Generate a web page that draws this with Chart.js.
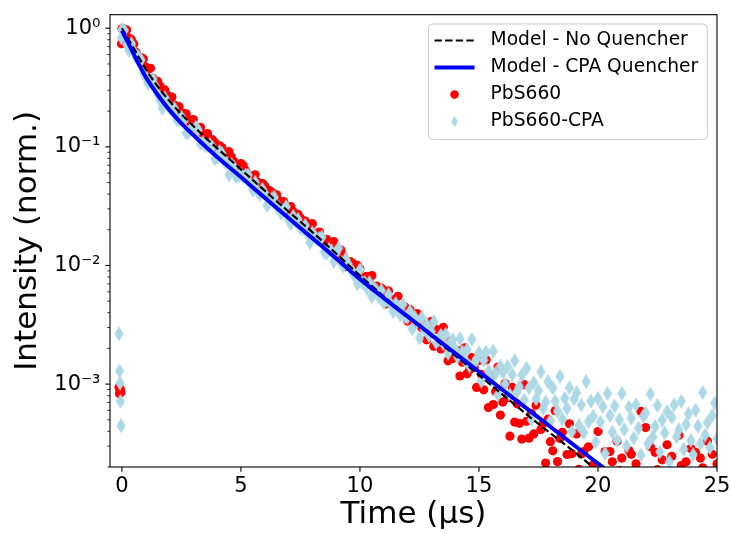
<!DOCTYPE html>
<html>
<head>
<meta charset="utf-8">
<script src="https://cdn.jsdelivr.net/npm/chart.js@4.4.0/dist/chart.umd.js"></script>
<style>
html,body{margin:0;padding:0;background:#fff;}
#wrap{width:731px;height:534px;}
</style>
</head>
<body>
<div id="wrap"><canvas id="c" width="731" height="534"></canvas></div>
<script>
// ---- data ----
const time = [-0.12,-0.1,-0.08,-0.06,-0.04,-0.02,
 0,0.1,0.2,0.3,0.4,0.5,0.6,0.7,0.8,0.9,
 1,1.1,1.2,1.3,1.4,1.5,1.6,1.7,1.8,1.9,
 2,2.1,2.2,2.3,2.4,2.5,2.6,2.7,2.8,2.9,
 3,3.1,3.2,3.3,3.4,3.5,3.6,3.7,3.8,3.9,
 4,4.1,4.2,4.3,4.4,4.5,4.6,4.7,4.8,4.9,
 5,5.1,5.2,5.3,5.4,5.5,5.6,5.7,5.8,5.9,
 6,6.1,6.2,6.3,6.4,6.5,6.6,6.7,6.8,6.9,
 7,7.1,7.2,7.3,7.4,7.5,7.6,7.7,7.8,7.9,
 8,8.1,8.2,8.3,8.4,8.5,8.6,8.7,8.8,8.9,
 9,9.1,9.2,9.3,9.4,9.5,9.6,9.7,9.8,9.9,
 10,10.1,10.2,10.3,10.4,10.5,10.6,10.7,10.8,10.9,
 11,11.1,11.2,11.3,11.4,11.5,11.6,11.7,11.8,11.9,
 12,12.1,12.2,12.3,12.4,12.5,12.6,12.7,12.8,12.9,
 13,13.1,13.2,13.3,13.4,13.5,13.6,13.7,13.8,13.9,
 14,14.1,14.2,14.3,14.4,14.5,14.6,14.7,14.8,14.9,
 15,15.1,15.2,15.3,15.4,15.5,15.6,15.7,15.8,15.9,
 16,16.1,16.2,16.3,16.4,16.5,16.6,16.7,16.8,16.9,
 17,17.1,17.2,17.3,17.4,17.5,17.6,17.7,17.8,17.9,
 18,18.1,18.2,18.3,18.4,18.5,18.6,18.7,18.8,18.9,
 19,19.1,19.2,19.3,19.4,19.5,19.6,19.7,19.8,19.9,
 20,20.1,20.2,20.3,20.4,20.5,20.6,20.7,20.8,20.9,
 21,21.1,21.2,21.3,21.4,21.5,21.6,21.7,21.8,21.9,
 22,22.1,22.2,22.3,22.4,22.5,22.6,22.7,22.8,22.9,
 23,23.1,23.2,23.3,23.4,23.5,23.6,23.7,23.8,23.9,
 24,24.1,24.2,24.3,24.4,24.5,24.6,24.7,24.8,24.9,
 25];

const pbs660 = [9.4e-4,8.3e-4,8.8e-4,9.0e-4,8.5e-4,0.74,
 0.99,0.985,0.966,0.826,0.800,0.736,0.625,0.552,0.566,0.551,
 0.470,0.452,0.459,0.379,0.352,0.356,0.325,0.290,0.302,0.274,
 0.240,0.263,0.225,0.217,0.218,0.188,0.192,0.190,0.164,0.168,
 0.170,0.146,0.144,0.146,0.129,0.126,0.129,0.108,0.115,0.109,
 0.0938,0.102,0.0986,0.0867,0.0861,0.0910,0.0820,0.0752,0.0695,0.0713,
 0.0723,0.0693,0.0630,0.0566,0.0565,0.0566,0.0581,0.0505,0.0470,0.0491,
 0.0468,0.0398,0.0428,0.0413,0.0356,0.0394,0.0352,0.0334,0.0346,0.0314,
 0.0292,0.0313,0.0284,0.0255,0.0270,0.0251,0.0224,0.0237,0.0215,0.0203,
 0.0225,0.0174,0.0187,0.0191,0.0158,0.0165,0.0166,0.0142,0.0138,0.0159,
 0.0135,0.0124,0.0135,0.0120,0.00977,0.00997,0.01076,0.0104,0.00929,0.0100,
 9.33e-3,7.54e-3,7.98e-3,8.10e-3,7.16e-3,8.23e-3,6.30e-3,6.71e-3,5.93e-3,6.45e-3,
 6.13e-3,4.74e-3,6.10e-3,5.07e-3,5.19e-3,4.32e-3,5.49e-3,4.16e-3,4.26e-3,4.45e-3,
 3.40e-3,4.24e-3,3.53e-3,3.22e-3,3.93e-3,3.30e-3,2.99e-3,3.18e-3,2.36e-3,2.80e-3,
 3.38e-3,2.08e-3,2.89e-3,2.26e-3,1.98e-3,3.01e-3,2.28e-3,1.57e-3,2.30e-3,1.64e-3,
 1.86e-3,1.92e-3,1.17e-3,1.53e-3,2.02e-3,1.22e-3,1.32e-3,1.67e-3,1.38e-3,9.38e-4,
 1.58e-3,1.21e-3,8.95e-4,1.60e-3,6.34e-4,1.18e-3,6.73e-4,8.65e-4,1.39e-3,5.48e-4,
 7.05e-4,1.01e-3,7.69e-4,3.64e-4,9.38e-4,4.78e-4,6.82e-4,4.67e-4,3.44e-4,9.89e-4,
 4.85e-4,3.50e-4,5.68e-4,3.80e-4,6.64e-4,1.84e-4,4.15e-4,4.66e-4,2.16e-4,5.06e-4,
 3.27e-4,2.74e-4,5.97e-4,2.22e-4,3.48e-4,3.92e-4,1.75e-4,2.55e-4,4.63e-4,2.59e-4,
 1.74e-4,3.80e-4,1.91e-4,2.58e-4,2.70e-4,1.17e-4,2.96e-4,1.54e-4,2.09e-4,1.69e-4,
 3.98e-4,1.20e-4,1.64e-4,2.70e-4,1.37e-4,2.70e-4,2.21e-4,1.15e-4,3.30e-4,1.87e-4,
 2.38e-4,1.37e-4,1.58e-4,2.75e-4,2.56e-4,1.14e-4,2.13e-4,1.77e-4,5.90e-4,1.42e-4,
 4.30e-4,1.27e-4,2.97e-4,1.53e-4,2.66e-4,1.90e-4,9.9e-5,2.30e-4,1.71e-4,3.08e-4,
 1.32e-4,2.46e-4,1.84e-4,1.59e-4,3.70e-4,2.06e-4,1.18e-4,2.21e-4,1.47e-4,2.86e-4,
 1.77e-4,2.66e-4,1.06e-4,2.38e-4,1.97e-4,1.37e-4,3.30e-4,1.65e-4,2.56e-4,1.23e-4,
 2.13e-4];

const pbs660Cpa = [2.65e-3,1.29e-3,1.02e-3,7.15e-4,4.46e-4,0.83,
 0.975,0.959,0.731,0.646,0.739,0.640,0.567,0.573,0.539,0.420,
 0.388,0.342,0.361,0.375,0.326,0.279,0.246,0.212,0.259,0.237,
 0.213,0.204,0.211,0.170,0.168,0.178,0.165,0.131,0.133,0.141,
 0.136,0.146,0.139,0.106,0.108,0.102,0.102,0.104,0.0993,0.0793,
 0.0812,0.0912,0.0881,0.0755,0.0730,0.0581,0.0713,0.0676,0.0562,0.0570,
 0.0589,0.0556,0.0578,0.0578,0.0481,0.0432,0.0502,0.0417,0.0395,0.0438,
 0.0405,0.0321,0.0344,0.0364,0.0376,0.0313,0.0307,0.0274,0.0293,0.0313,
 0.0241,0.0225,0.0259,0.0237,0.0244,0.0207,0.0203,0.0218,0.0183,0.0156,
 0.0188,0.0176,0.0165,0.0170,0.0173,0.0130,0.0126,0.0136,0.0133,0.0108,
 0.0128,0.0140,0.0106,0.00989,0.0113,0.0103,0.00931,0.00877,0.00800,0.00700,
 9.23e-3,7.13e-3,7.19e-3,6.38e-3,7.19e-3,5.46e-3,6.44e-3,6.10e-3,5.41e-3,6.15e-3,
 4.84e-3,5.12e-3,5.68e-3,4.68e-3,4.08e-3,4.78e-3,4.45e-3,3.81e-3,4.67e-3,3.68e-3,
 3.67e-3,4.09e-3,2.92e-3,3.65e-3,3.37e-3,2.44e-3,3.64e-3,2.88e-3,3.17e-3,2.57e-3,
 2.76e-3,3.37e-3,2.24e-3,2.37e-3,2.58e-3,2.19e-3,2.63e-3,1.82e-3,2.25e-3,2.36e-3,
 1.98e-3,1.69e-3,2.42e-3,1.87e-3,1.60e-3,1.95e-3,1.42e-3,2.38e-3,1.50e-3,1.63e-3,
 1.84e-3,1.06e-3,1.59e-3,1.86e-3,1.29e-3,1.09e-3,1.89e-3,1.24e-3,8.18e-4,1.42e-3,
 1.26e-3,1.00e-3,1.41e-3,8.10e-4,1.20e-3,1.58e-3,8.65e-4,9.47e-4,1.19e-3,7.34e-4,
 1.36e-3,9.30e-4,5.00e-4,1.03e-3,7.50e-4,8.78e-4,1.27e-3,6.23e-4,7.08e-4,1.05e-3,
 4.88e-4,9.27e-4,7.18e-4,5.90e-4,1.16e-3,5.07e-4,7.59e-4,6.24e-4,9.33e-4,3.97e-4,
 7.50e-4,8.47e-4,4.48e-4,6.67e-4,3.91e-4,1.05e-3,4.82e-4,7.18e-4,5.36e-4,3.25e-4,
 7.59e-4,4.79e-4,6.46e-4,2.60e-4,8.32e-4,5.43e-4,3.94e-4,6.53e-4,3.35e-4,5.01e-4,
 8.32e-4,4.14e-4,3.01e-4,6.40e-4,5.16e-4,3.51e-4,6.71e-4,4.26e-4,2.52e-4,5.35e-4,
 5.69e-4,3.15e-4,8.24e-4,3.58e-4,4.39e-4,6.61e-4,2.68e-4,4.97e-4,3.88e-4,5.85e-4,
 2.21e-4,5.25e-4,6.68e-4,3.59e-4,4.12e-4,7.16e-4,2.82e-4,4.57e-4,5.62e-4,3.35e-4,
 2.54e-4,6.03e-4,4.42e-4,3.13e-4,8.51e-4,3.72e-4,4.73e-4,2.92e-4,5.43e-4,6.92e-4,
 3.47e-4];

const modelTime = [0,0.25,0.5,0.75,1,1.5,2,2.5,3,3.5,4,4.5,5,6,7,8,9,10,11,12,13,14,15,16,17,18,19,20,21,22,25];
const modelNoQuencher = [1.0,0.822,0.676,0.550,0.452,0.324,0.243,0.188,0.150,0.120,0.0973,0.0794,0.0646,0.0427,0.0285,0.0191,0.0126,0.00822,0.00550,0.00372,0.00254,0.00174,0.00119,0.000813,0.000556,0.000385,0.000269,0.000184,0.000126,0.0000851,0.0000282];
const modelCpaQuencher = [0.955,0.759,0.603,0.479,0.389,0.275,0.204,0.158,0.126,0.101,0.0822,0.0676,0.0556,0.0372,0.0251,0.0170,0.01148,0.00767,0.00531,0.00372,0.00260,0.00182,0.00127,0.000891,0.000624,0.000437,0.000305,0.000214,0.000150,0.000105,0.0000359];

const xTickValues = [0,5,10,15,20,25];
const yMajorTicks = [1e-3,1e-2,1e-1,1];
const yTickLabels = ['10\u207B\u00B3','10\u207B\u00B2','10\u207B\u00B9','10\u2070'];
const legendOrder = ['Model - No Quencher','Model - CPA Quencher','PbS660','PbS660-CPA'];

// ---- styling helpers ----
const FONT = 'DejaVu Sans';
Chart.defaults.font.family = FONT;
Chart.defaults.color = '#000';

function makeDiamond(w, h, dw, color) {
  const c = document.createElement('canvas');
  c.width = w; c.height = h;
  const g = c.getContext('2d');
  g.fillStyle = color;
  g.beginPath();
  g.moveTo(w/2, 0); g.lineTo(w/2 + dw/2, h/2); g.lineTo(w/2, h); g.lineTo(w/2 - dw/2, h/2);
  g.closePath(); g.fill();
  return c;
}
const diamond = makeDiamond(10, 15, 9.2, '#add8e6');

const toXY = (xs, ys) => xs.map((x, i) => ({x: x, y: ys[i]}));

const axisDecor = {
  id: 'axisDecor',
  afterDatasetsDraw(chart) {
    const {ctx, chartArea: a, scales: {x, y}} = chart;
    ctx.save();
    ctx.strokeStyle = '#000';
    x.ticks.forEach(t => {
      const px = x.getPixelForValue(t.value);
      ctx.lineWidth = 1.1;
      ctx.beginPath(); ctx.moveTo(px, a.bottom); ctx.lineTo(px, a.bottom + 4.7); ctx.stroke();
    });
    y.ticks.forEach(t => {
      const py = y.getPixelForValue(t.value);
      const len = t.major ? 4.7 : 2.7;
      ctx.lineWidth = t.major ? 1.1 : 0.8;
      ctx.beginPath(); ctx.moveTo(a.left - len, py); ctx.lineTo(a.left, py); ctx.stroke();
    });
    ctx.lineWidth = 1.1;
    ctx.strokeRect(a.left, a.top, a.right - a.left, a.bottom - a.top);
    ctx.restore();
  }
};

const insetLegend = {
  id: 'insetLegend',
  afterDraw(chart) {
    const {ctx, chartArea: a} = chart;
    ctx.save();
    ctx.font = '18.7px "' + FONT + '"';
    const items = legendOrder.map(l => chart.data.datasets.find(d => d.label === l));
    const textW = Math.max(...items.map(d => ctx.measureText(d.label).width));
    const padL = 6, handleW = 40, gap = 16, padR = 9, rowH = 27, padT = 16.5, padB = 18;
    const w = padL + handleW + gap + textW + padR;
    const h = padT + rowH * (items.length - 1) + padB;
    const x0 = a.right - 9.7 - w, y0 = a.top + 9.3, r = 4;
    ctx.beginPath();
    ctx.moveTo(x0 + r, y0);
    ctx.arcTo(x0 + w, y0, x0 + w, y0 + h, r);
    ctx.arcTo(x0 + w, y0 + h, x0, y0 + h, r);
    ctx.arcTo(x0, y0 + h, x0, y0, r);
    ctx.arcTo(x0, y0, x0 + w, y0, r);
    ctx.closePath();
    ctx.fillStyle = 'rgba(255,255,255,0.8)'; ctx.fill();
    ctx.strokeStyle = '#cccccc'; ctx.lineWidth = 1; ctx.stroke();
    items.forEach((d, i) => {
      const cy = y0 + padT + i * rowH;
      const hx = x0 + padL, cx = hx + handleW / 2;
      if (d.type === 'line') {
        ctx.save();
        ctx.strokeStyle = d.borderColor; ctx.lineWidth = d.borderWidth;
        ctx.setLineDash(d.borderDash || []);
        ctx.beginPath(); ctx.moveTo(hx, cy); ctx.lineTo(hx + handleW, cy); ctx.stroke();
        ctx.restore();
      } else if (d.pointStyle === 'circle') {
        ctx.fillStyle = d.backgroundColor;
        ctx.beginPath(); ctx.arc(cx, cy, 4.3, 0, Math.PI * 2); ctx.fill();
      } else {
        ctx.fillStyle = d.backgroundColor;
        ctx.beginPath();
        ctx.moveTo(cx, cy - 5.5); ctx.lineTo(cx + 3.3, cy); ctx.lineTo(cx, cy + 5.5); ctx.lineTo(cx - 3.3, cy);
        ctx.closePath(); ctx.fill();
      }
      ctx.fillStyle = '#000'; ctx.textBaseline = 'middle'; ctx.textAlign = 'left';
      ctx.fillText(d.label, hx + handleW + gap, cy);
    });
    ctx.restore();
  }
};

new Chart(document.getElementById('c'), {
  type: 'scatter',
  data: {
    datasets: [
      {type: 'line', label: 'Model - CPA Quencher', data: toXY(modelTime, modelCpaQuencher),
       borderColor: '#0000ff', borderWidth: 4, pointRadius: 0, fill: false,
       cubicInterpolationMode: 'monotone', clip: 0},
      {type: 'line', label: 'Model - No Quencher', data: toXY(modelTime, modelNoQuencher),
       borderColor: '#000000', borderWidth: 2.2, borderDash: [7.4, 3.2], pointRadius: 0, fill: false,
       cubicInterpolationMode: 'monotone', clip: 0},
      {type: 'scatter', label: 'PbS660-CPA', data: toXY(time, pbs660Cpa),
       pointStyle: diamond, pointRadius: 6, backgroundColor: '#add8e6', borderWidth: 0, clip: 0},
      {type: 'scatter', label: 'PbS660', data: toXY(time, pbs660),
       pointStyle: 'circle', pointRadius: 4.6, backgroundColor: '#ff0000', borderWidth: 0, clip: 0}
    ]
  },
  options: {
    responsive: false,
    animation: false,
    devicePixelRatio: 1,
    layout: {padding: {top: 14.7, right: 14, left: 0, bottom: 0}},
    plugins: {legend: {display: false}, tooltip: {enabled: false}},
    scales: {
      x: {
        type: 'linear', min: -0.5, max: 25,
        afterBuildTicks: s => { s.ticks = xTickValues.map(v => ({value: v})); },
        afterFit: s => { s.height = 67; s.paddingLeft = 0; s.paddingRight = 0; },
        ticks: {autoSkip: false, maxRotation: 0, padding: 7.2, color: '#000',
                font: {family: FONT, size: 21}, callback: v => String(v)},
        grid: {display: false, drawTicks: false, tickLength: 0},
        border: {display: false},
        title: {display: true, text: 'Time (\u03BCs)', color: '#000',
                font: {family: FONT, size: 31, lineHeight: 1.2}, padding: {top: 0, bottom: 0}}
      },
      y: {
        type: 'logarithmic', min: 2.0e-4, max: 1.3,
        afterBuildTicks: s => {
          const ticks = [];
          for (let e = -4; e <= 0; e++) {
            for (let k = 1; k <= 9; k++) {
              const v = k * Math.pow(10, e);
              if (v >= s.min * 0.999 && v <= s.max) ticks.push({value: v, major: k === 1});
            }
          }
          s.ticks = ticks;
        },
        afterFit: s => { s.width = 110; s.paddingTop = 0; s.paddingBottom = 0; },
        ticks: {autoSkip: false, padding: 9.5, color: '#000', font: {family: FONT, size: 21},
                callback: v => {
                  const i = yMajorTicks.findIndex(m => Math.abs(m - v) / m < 1e-6);
                  return i >= 0 ? yTickLabels[i] : '';
                }},
        grid: {display: false, drawTicks: false, tickLength: 0},
        border: {display: false},
        title: {display: true, text: 'Intensity (norm.)', color: '#000',
                font: {family: FONT, size: 31, lineHeight: 1.2}, padding: {top: 9.4, bottom: 0}}
      }
    }
  },
  plugins: [axisDecor, insetLegend]
});
</script>
</body>
</html>
